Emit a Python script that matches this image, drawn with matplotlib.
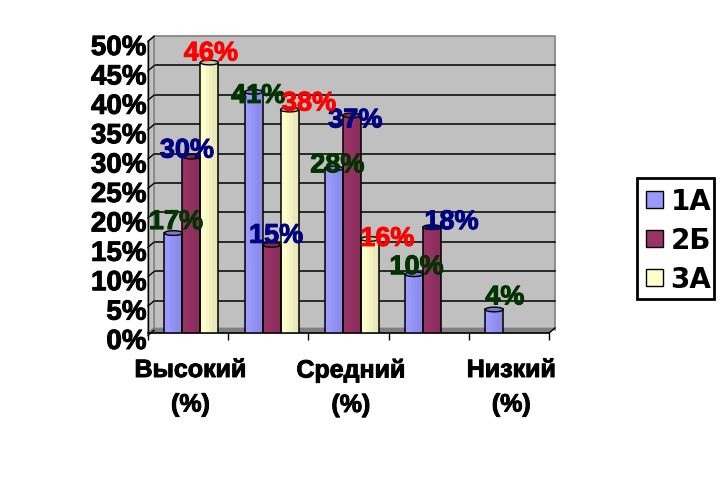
import matplotlib
matplotlib.use("Agg")
from matplotlib import pyplot as plt
from matplotlib.patches import Ellipse, Patch, Polygon, Rectangle
from matplotlib.transforms import ScaledTranslation
from matplotlib import patheffects as pe

# chart data, None = no bar and no label
category_labels = ["Высокий\n(%)", "Средний\n(%)", "Низкий\n(%)"]
series_names = ["1А", "2Б", "3А"]
values_1a = [17, 41, 28, 10, 4]
values_2b = [30, 15, 37, 18, None]
values_3a = [46, 38, 16, None, None]
y_values = [0, 5, 10, 15, 20, 25, 30, 35, 40, 45, 50]

all_values = [values_1a, values_2b, values_3a]
colors = ["#9999FF", "#993366", "#FFFFCC"]
top_colors = ["#7A7ACC", "#7A2952", "#CCCCA3"]
label_colors = ["#003300", "#000080", "#FF0000"]
shades = [1.0, 1.0, 0.97, 0.94, 0.91, 0.91]

# the data labels were moved by hand in the original, pixels from the bar top
label_shifts = [
    [(2, 1), (4, -14), (3, -7), (2, -3), (10, 2)],
    [(-5, -4), (4, -1), (3, -15), (19, -5), None],
    [(1, -1), (19, -4), (17, -10), None, None],
]


def shade(color, factor):
    r, g, b = matplotlib.colors.to_rgb(color)
    return (r * factor, g * factor, b * factor)


W, H = 726, 481
fig = plt.figure(figsize=(W / 100, H / 100), dpi=100)
ax = fig.add_axes([148 / W, 1 - 334 / H, 401 / W, 294 / H])
ax.set_xlim(0, 5)
ax.set_ylim(0, 50)
for s in ax.spines.values():
    s.set_visible(False)
ax.spines["bottom"].set_visible(True)
ax.spines["bottom"].set_linewidth(1.2)
ax.patch.set_visible(False)

# back wall is the front plane moved a little up and right
back = ax.transData + ScaledTranslation(6 / 100, 3 / 100, fig.dpi_scale_trans)
ax.fill_between([0, 5], [0, 0], [50, 50], color="#C0C0C0", transform=back, zorder=0,
                lw=0, clip_on=False)
ax.plot([0, 0, 5, 5], [0, 50, 50, 0], color="#808080", lw=1.2, transform=back,
        zorder=1, clip_on=False)
for v in y_values[1:-1]:
    ax.plot([0, 5], [v, v], color="black", lw=1.1, transform=back, zorder=1, clip_on=False)

# left wall and floor, in front axis units
step_x = 6 / 80.2
step_y = 5 / 5.88
ax.add_patch(Polygon([(0, 0), (step_x, step_y), (step_x, 50.5), (0, 50 - 0.4)], fc="#C0C0C0",
                     ec="#808080", lw=1, zorder=1, clip_on=False))
ax.add_patch(Polygon([(0, 0), (5, 0), (5 + step_x, step_y), (step_x, step_y)], fc="#808080",
                     ec="#808080", lw=0.5, zorder=1, clip_on=False))
ax.plot([0, 0], [0, 50 - 0.4], color="black", lw=1, zorder=2, clip_on=False)
for v in y_values:
    ax.plot([0, step_x], [v - 0.4, v + 0.45], color="black", lw=1, zorder=2, clip_on=False)
ax.plot([5, 5 + step_x], [0, step_y], color="black", lw=1, zorder=2, clip_on=False)

# cylinders
bar_w = 0.224
for j, vals in enumerate(all_values):
    for i, v in enumerate(vals):
        if v is None:
            continue
        x0 = i + 0.205 + j * bar_w
        n = len(shades)
        for k, f in enumerate(shades):
            ax.bar(x0 + k * bar_w / n, v, bar_w / n + 0.002, align="edge",
                   color=shade(colors[j], f), lw=0, zorder=3)
        ax.bar(x0, v, bar_w, align="edge", fill=False, edgecolor="black", lw=1.1, zorder=4)
        ax.add_patch(Ellipse((x0 + bar_w / 2, v), bar_w, 0.8, fc=top_colors[j], ec="black",
                             lw=1, zorder=5))

for j, vals in enumerate(all_values):
    for i, v in enumerate(vals):
        if v is None:
            continue
        x = i + 0.2 + (j + 0.5) * bar_w
        dx, dy = label_shifts[j][i]
        t = ax.annotate("%d%%" % v, (x, v), xytext=(1 + dx, 3 + dy), textcoords="offset pixels",
                        ha="center", va="baseline", fontsize=19.5, color=label_colors[j],
                        family="Liberation Sans", fontweight="bold", zorder=6,
                        annotation_clip=False)
        t.set_path_effects([pe.withStroke(linewidth=0.7, foreground=label_colors[j])])

# axis text
ax.set_yticks(y_values)
ax.set_yticklabels(["%d%%" % v for v in y_values], fontsize=20, family="Liberation Sans",
                   fontweight="bold")
ax.tick_params(axis="y", length=0, pad=1)
ax.set_xticks([0, 1, 2, 3, 4, 5])
ax.set_xticklabels([])
ax.tick_params(axis="x", which="major", length=5, width=1)
ax.set_xticks([0.53, 2.53, 4.53], minor=True)
ax.set_xticklabels(category_labels, minor=True, fontsize=18, family="Liberation Sans",
                   fontweight="bold", linespacing=1.55)
ax.tick_params(axis="x", which="minor", length=0, pad=18)
down = ScaledTranslation(0, -6 / 100, fig.dpi_scale_trans)
for t in ax.get_yticklabels():
    t.set_transform(t.get_transform() + down)
for t in ax.get_yticklabels() + ax.get_xticklabels(minor=True):
    t.set_path_effects([pe.withStroke(linewidth=0.7, foreground="black")])

handles = [Patch(fc=c, ec="black", lw=1, label=n) for c, n in zip(colors, series_names)]
fig.legend(handles=handles, loc="upper left", bbox_to_anchor=(637 / W, 1 - 179 / H),
           borderaxespad=0, frameon=False,
           prop={"family": "DejaVu Sans", "weight": "bold", "size": 20},
           handlelength=0.6, handleheight=0.6, handletextpad=0.28,
           labelspacing=0.4, borderpad=0.33)
fig.add_artist(Rectangle((637 / W, 1 - 300 / H), 77 / W, 121 / H, transform=fig.transFigure,
                         fill=False, ec="black", lw=2))

fig.savefig("out.png", dpi=100)
